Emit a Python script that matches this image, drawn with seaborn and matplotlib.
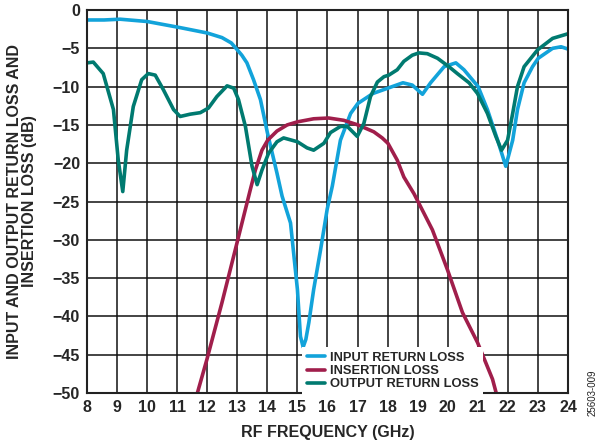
import matplotlib
matplotlib.use("Agg")
import matplotlib.pyplot as plt
import seaborn as sns
import pandas as pd

# ---- data ----
input_rl_freq = [8, 8.57, 9.1, 10.0, 11.1, 12.0, 12.49, 12.8, 13.0, 13.15, 13.32, 13.54, 13.77,
                 14.0, 14.32, 14.49, 14.77, 15.0, 15.1, 15.19, 15.28, 15.38, 15.54, 15.77, 15.99,
                 16.16, 16.43, 16.77, 17.01, 17.51, 18.01, 18.51, 18.82, 19.16, 19.43, 19.88,
                 20.27, 20.54, 21.01, 21.32, 21.66, 21.93, 22.16, 22.32, 22.54, 22.82, 23.01,
                 23.49, 23.77, 24]
input_rl_db = [-1.3, -1.3, -1.2, -1.5, -2.3, -3.0, -3.6, -4.3, -5.2, -5.9, -6.9, -9.1, -11.7,
               -16.0, -21.3, -24.3, -27.8, -36.5, -42.6, -44.0, -43.0, -40.8, -36.5, -31.3,
               -26.0, -23.0, -17.0, -13.5, -12.2, -10.9, -10.2, -9.5, -9.8, -11.0, -9.5, -7.4,
               -6.9, -7.8, -10.0, -13.0, -17.0, -20.4, -17.0, -13.0, -9.5, -7.4, -6.3,
               -5.0, -4.8, -5.1]

insertion_freq = [11.6, 11.99, 12.49, 12.99, 13.43, 13.6, 13.82, 14.01, 14.32, 14.66, 15.0,
                  15.54, 16.04, 16.54, 17.01, 17.54, 17.82, 18.01, 18.32, 18.54, 18.88, 19.49,
                  19.99, 20.49, 20.99, 21.49, 21.68]
insertion_db = [-51.0, -45.6, -38.2, -30.4, -23.5, -20.9, -18.3, -17.0, -15.8, -15.0, -14.6,
                -14.2, -14.1, -14.4, -15.0, -15.9, -16.7, -17.4, -19.6, -21.8, -24.0, -28.7,
                -33.9, -39.5, -43.4, -48.2, -51.0]

output_rl_freq = [8, 8.21, 8.54, 8.88, 9.04, 9.19, 9.32, 9.54, 9.82, 10.04, 10.27, 10.54, 10.88,
                  11.1, 11.43, 11.77, 12.04, 12.32, 12.66, 12.88, 13.04, 13.27, 13.49, 13.66,
                  13.82, 14.04, 14.32, 14.54, 15.0, 15.32, 15.54, 15.88, 16.1, 16.43, 16.66,
                  16.99, 17.21, 17.43, 17.66, 17.88, 18.04, 18.32, 18.54, 18.82, 19.04, 19.32,
                  19.66, 20.04, 20.32, 20.71, 20.99, 21.32, 21.6, 21.79, 21.99, 22.16, 22.32,
                  22.54, 22.99, 23.49, 24]
output_rl_db = [-6.9, -6.8, -8.3, -13.0, -19.6, -23.7, -18.3, -12.6, -9.1, -8.3, -8.5, -10.4,
                -13.0, -13.9, -13.6, -13.4, -12.8, -11.3, -9.9, -10.2, -11.7, -15.2, -20.4,
                -22.8, -20.9, -18.7, -17.2, -16.7, -17.2, -18.0, -18.3, -17.4, -16.0, -15.2,
                -15.2, -16.5, -14.8, -11.3, -9.4, -8.7, -8.5, -7.8, -6.7, -5.9, -5.6, -5.7,
                -6.3, -7.4, -8.3, -9.5, -10.9, -13.5, -16.5, -18.3, -17.0, -13.5, -10.0,
                -7.4, -5.2, -3.7, -3.1]

series_names = ["INPUT RETURN LOSS", "INSERTION LOSS", "OUTPUT RETURN LOSS"]
series_colors = ["#12A3DA", "#A01E4B", "#007A70"]
x_ticks = list(range(8, 25))
y_ticks = list(range(-50, 1, 5))

# ---- build long table ----
frames = []
for name, fx, fy in zip(series_names,
                        [input_rl_freq, insertion_freq, output_rl_freq],
                        [input_rl_db, insertion_db, output_rl_db]):
    frames.append(pd.DataFrame({"freq": fx, "db": fy, "series": name}))
df = pd.concat(frames, ignore_index=True)

sns.set_style("white")
plt.rcParams["font.family"] = ["Liberation Sans", "DejaVu Sans"]

fig = plt.figure(figsize=(6.02, 4.47), dpi=100)
ax = fig.add_axes([0.1445, 0.1208, 0.7990, 0.8568])

sns.lineplot(data=df, x="freq", y="db", hue="series", hue_order=series_names,
             palette=series_colors, estimator=None, sort=False, linewidth=2.6, ax=ax)
for ln in ax.get_lines():
    ln.set_solid_joinstyle("round")
    ln.set_solid_capstyle("round")

ax.set_xlim(8, 24)
ax.set_ylim(-50, 0)
ax.set_xticks(x_ticks)
ax.set_yticks(y_ticks)
ax.set_xticklabels([str(t) for t in x_ticks], fontsize=11.5, fontweight="bold")
ax.set_yticklabels([("\u2212" + str(-t)) if t < 0 else str(t) for t in y_ticks],
                   fontsize=11.5, fontweight="bold")
ax.tick_params(length=0, pad=5)
ax.grid(True, color="#111111", linewidth=1.1)
ax.set_axisbelow(True)
for s in ax.spines.values():
    s.set_color("#222222")
    s.set_linewidth(1.5)
    s.set_visible(True)

ax.set_xlabel("RF FREQUENCY (GHz)", fontsize=11.5, fontweight="bold", labelpad=7)
ax.set_ylabel("INPUT AND OUTPUT RETURN LOSS AND\nINSERTION LOSS (dB)", fontsize=11.5,
              fontweight="bold", labelpad=11, linespacing=1.0)

leg = ax.legend(loc="lower left", bbox_to_anchor=(0.447, -0.005), frameon=True,
                fontsize=9.3, handlelength=1.4, handletextpad=0.4, labelspacing=0.1,
                borderpad=0.35, borderaxespad=0.0)
leg.get_frame().set_facecolor("white")
leg.get_frame().set_edgecolor("none")
leg.get_frame().set_alpha(1.0)
leg.get_frame().set_boxstyle("square", pad=0)
for t in leg.get_texts():
    t.set_fontweight("bold")
for l in leg.get_lines():
    l.set_linewidth(2.6)

fig.text(0.985, 0.07, "25603-009", rotation=90, fontsize=7, ha="center", va="bottom",
         color="#222222")

fig.savefig("out.png", dpi=100)
